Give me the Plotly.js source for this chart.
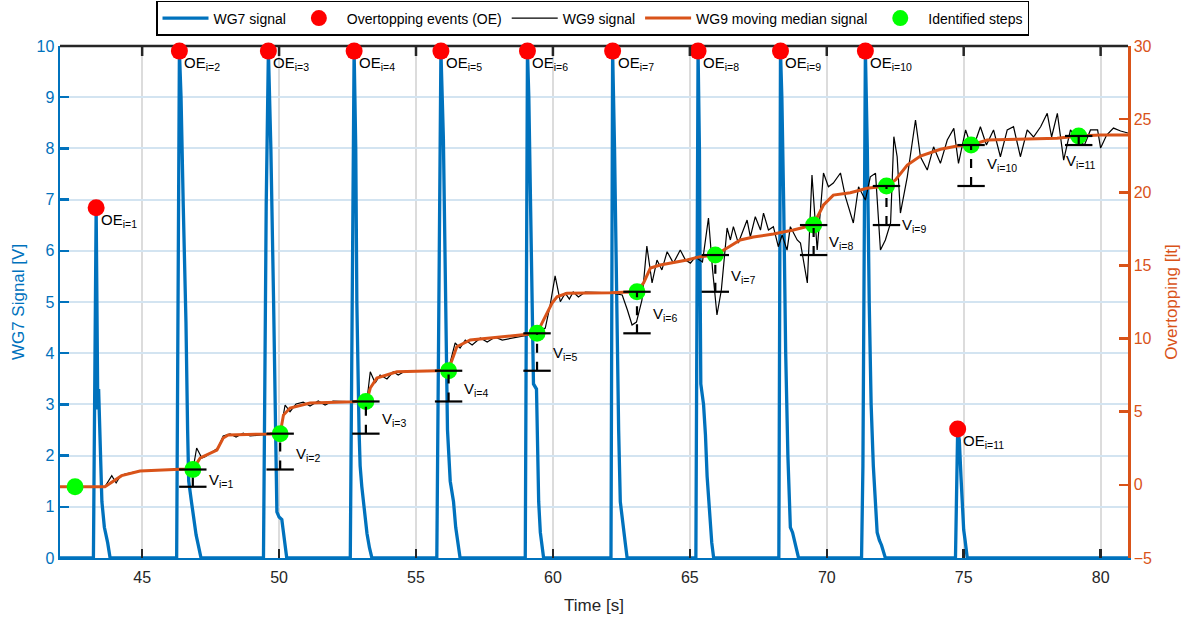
<!DOCTYPE html>
<html><head><meta charset="utf-8">
<script src="https://cdn.plot.ly/plotly-3.0.1.min.js"></script>
<style>html,body{margin:0;padding:0;background:#fff}#chart{width:1196px;height:621px}</style>
</head><body><div id="chart"></div>
<script>
// ---------------- DATA ----------------
// WG7 signal [V] (left axis)
const wg7Time = [42.0,
 43.22, 43.32, 43.35, 43.38, 43.41, 43.47, 43.53, 43.62, 43.68, 43.74, 43.83,
 46.26, 46.36, 46.42, 46.50, 46.60, 46.66, 46.70, 46.80, 46.90, 46.97, 47.05, 47.15,
 49.43, 49.53, 49.61, 49.70, 49.80, 49.88, 49.92, 50.00, 50.10, 50.16, 50.22, 50.28,
 52.60, 52.70, 52.74, 52.80, 52.84, 52.92, 52.96, 53.02, 53.08, 53.14, 53.21, 53.30, 53.39,
 55.76, 55.85, 55.91, 56.00, 56.08, 56.15, 56.25, 56.37, 56.45, 56.53, 56.61,
 58.99, 59.07, 59.12, 59.17, 59.25, 59.29, 59.40, 59.45, 59.48, 59.54, 59.60, 59.66,
 62.12, 62.18, 62.25, 62.32, 62.40, 62.46, 62.52, 62.58, 62.64, 62.71,
 65.22, 65.30, 65.35, 65.38, 65.40, 65.50, 65.57, 65.63, 65.69, 65.75, 65.80, 65.87,
 68.25, 68.31, 68.36, 68.43, 68.50, 68.58, 68.64, 68.67, 68.75, 68.80, 68.88, 68.97,
 71.27, 71.30, 71.32, 71.41, 71.48, 71.55, 71.62, 71.70, 71.78, 71.84, 71.92, 72.00, 72.14,
 74.70, 74.78, 74.84, 74.90, 74.94, 75.00, 75.05, 75.13,
 81.0];
const wg7Volt = [0,
 0, 6.84, 3.4, 2.9, 3.3, 2.0, 1.1, 0.6, 0.45, 0.3, 0,
 0, 9.9, 9.0, 6.9, 4.6, 2.5, 1.5, 1.1, 0.7, 0.45, 0.25, 0,
 0, 6.9, 9.9, 8.0, 5.0, 2.0, 0.9, 0.8, 0.75, 0.5, 0.2, 0,
 0, 7.4, 9.9, 8.0, 5.0, 2.5, 1.8, 1.4, 1.1, 0.8, 0.48, 0.2, 0,
 0, 7.3, 9.9, 8.2, 5.0, 2.5, 1.5, 1.1, 0.6, 0.3, 0,
 0, 9.9, 9.0, 7.0, 4.0, 3.4, 3.3, 2.0, 1.1, 0.5, 0.2, 0,
 0, 9.9, 8.0, 5.0, 2.5, 1.1, 0.8, 0.6, 0.3, 0,
 0, 9.9, 8.0, 5.0, 3.4, 3.0, 2.4, 1.6, 1.1, 0.55, 0.3, 0,
 0, 9.9, 9.0, 6.8, 4.0, 2.0, 1.1, 0.6, 0.5, 0.4, 0.2, 0,
 0, 1.6, 1.8, 9.9, 8.0, 5.0, 3.0, 1.8, 1.0, 0.5, 0.35, 0.25, 0,
 0, 2.52, 2.3, 1.6, 1.0, 0.55, 0.35, 0,
 0];

// Overtopping events (left axis)
const oeTime = [43.32, 46.36, 49.61, 52.74, 55.91, 59.07, 62.18, 65.30, 68.31, 71.41, 74.78];
const oePeak = [6.84, 9.9, 9.9, 9.9, 9.9, 9.9, 9.9, 9.9, 9.9, 9.9, 2.52];
const oeLabels = ['OE<sub>i=1</sub>','OE<sub>i=2</sub>','OE<sub>i=3</sub>','OE<sub>i=4</sub>','OE<sub>i=5</sub>','OE<sub>i=6</sub>','OE<sub>i=7</sub>','OE<sub>i=8</sub>','OE<sub>i=9</sub>','OE<sub>i=10</sub>','OE<sub>i=11</sub>'];

// WG9 signal [lt] (right axis)
const wg9Time = [42.00,43.64,43.89,44.05,44.19,44.37,44.92,46.38,46.86,46.99,47.18,47.30,47.55,47.77,47.96,48.21,48.43,48.69,48.94,49.67,50.04,
 50.22,50.40,50.62,50.88,51.13,51.43,51.68,51.97,52.71,53.21,53.33,53.51,53.69,53.94,54.17,54.35,54.61,55.76,56.18,
 56.43,56.61,56.80,57.05,57.35,57.60,57.89,58.15,59.42,59.72,59.90,60.08,60.27,60.45,60.60,60.74,60.93,61.18,62.10,
 62.53,62.72,62.89,63.05,63.25,63.43,63.62,63.80,63.98,64.17,64.40,64.65,64.84,65.02,65.20,65.46,65.68,65.83,65.99,
 66.15,66.36,66.48,66.59,66.77,67.09,67.21,67.39,67.58,67.69,67.87,68.05,68.23,68.37,68.55,68.67,68.92,69.04,69.29,
 69.46,69.65,69.88,70.06,70.24,70.50,70.68,70.97,71.16,71.41,71.59,71.78,71.96,72.14,72.33,72.45,72.57,72.69,72.94,
 73.24,73.42,73.67,73.90,74.15,74.40,74.64,74.81,75.07,75.32,75.61,75.83,76.09,76.34,76.59,76.82,77.07,77.32,77.55,
 77.81,78.05,78.21,78.42,78.65,78.90,79.16,79.41,79.63,79.89,80.00,80.22,80.47,80.73,81.0];
const wg9Vol = [-0.13,-0.13,0.63,0.13,0.56,0.74,0.95,1.06,1.10,2.52,1.84,1.92,2.25,2.52,3.34,3.48,3.27,3.54,3.34,3.48,3.54,
 5.46,5.00,5.53,5.66,5.39,5.73,5.46,5.73,5.68,5.80,7.73,6.96,7.51,7.24,7.73,7.51,7.78,7.80,7.85,
 9.70,9.35,9.90,9.56,10.04,9.76,10.10,9.90,10.36,10.72,12.29,14.28,12.52,13.11,12.70,13.18,12.84,13.18,13.13,
 12.98,11.95,10.93,11.13,12.63,16.33,13.80,15.37,14.69,15.94,15.16,16.05,15.37,15.16,15.57,15.23,18.24,14.69,11.61,
 13.32,17.56,16.74,17.65,16.53,18.10,16.96,18.33,17.42,18.58,17.42,17.65,16.28,17.08,16.05,17.65,16.74,16.53,13.80,
 21.18,16.05,21.32,20.38,20.63,21.32,19.70,17.90,20.38,19.47,21.06,21.30,16.05,16.74,17.90,23.80,22.43,18.58,21.06,
 24.94,22.43,21.52,23.11,21.98,23.57,24.37,21.98,24.26,22.89,24.48,23.23,24.26,22.43,24.26,24.48,22.43,24.26,23.78,
 24.48,25.40,23.78,25.40,22.20,24.26,23.57,23.23,24.26,24.26,23.02,23.91,24.39,24.19,24.05];

// WG9 moving median signal [lt] (right axis)
const medTime = [42.00,43.64,44.25,44.92,46.38,46.86,47.12,47.73,47.96,48.14,49.67,50.04,50.16,50.40,51.13,52.71,53.21,53.33,53.57,54.30,
 55.76,56.18,56.36,56.49,56.98,58.08,59.42,59.60,59.97,60.15,60.51,62.10,63.07,63.31,63.56,63.92,64.29,64.90,65.38,65.93,
 66.36,66.84,67.32,68.05,68.78,69.51,69.88,70.24,70.86,71.47,72.18,72.51,72.94,73.42,74.15,74.76,75.27,75.86,76.95,78.41,
 79.19,80.00,81.0];
const medVol = [-0.13,-0.13,0.63,0.95,1.06,1.08,1.84,2.38,3.20,3.41,3.48,3.52,4.77,5.25,5.59,5.68,5.78,6.62,7.30,7.73,
 7.80,7.85,8.76,9.44,9.90,10.10,10.36,11.06,12.43,12.86,13.09,13.13,13.20,13.80,14.82,15.03,15.16,15.37,15.60,15.71,
 16.19,16.74,16.94,17.15,17.42,17.76,19.13,19.81,19.97,20.27,20.43,20.84,21.86,22.48,22.94,23.16,23.23,23.57,23.62,23.69,
 23.85,23.91,23.91];

// Identified steps [lt] (right axis)
const stepTime = [42.55, 46.85, 50.04, 53.17, 56.19, 59.42, 63.07, 65.93, 69.52, 72.18, 75.27, 79.20];
const stepVol = [-0.13, 1.05, 3.50, 5.70, 7.80, 10.36, 13.20, 15.71, 17.76, 20.43, 23.23, 23.85];
const stepLabels = ['V<sub>i=1</sub>','V<sub>i=2</sub>','V<sub>i=3</sub>','V<sub>i=4</sub>','V<sub>i=5</sub>','V<sub>i=6</sub>','V<sub>i=7</sub>','V<sub>i=8</sub>','V<sub>i=9</sub>','V<sub>i=10</sub>','V<sub>i=11</sub>'];
const stepLabelX = [47.35, 50.54, 53.67, 56.69, 59.92, 63.57, 66.43, 70.02, 72.68, 75.77, 78.68];
const stepLabelY = [0.54, 2.38, 4.77, 6.82, 9.22, 11.95, 14.55, 16.87, 17.97, 22.2, 22.4];

const xTicks = [45, 50, 55, 60, 65, 70, 75, 80];

// ---------------- BUILD ----------------
const BLUE = '#0072BD', ORANGE = '#D95319', DARK = '#262626';
const FONT = 'Liberation Sans, Arial, Helvetica, sans-serif';
const HALF = 0.5;

const barX = [], barY = [], dashX = [], dashY = [];
for (let i = 1; i < stepTime.length; i++) {
  const t = stepTime[i];
  barX.push(t - HALF, t + HALF, null, t - HALF, t + HALF, null);
  barY.push(stepVol[i], stepVol[i], null, stepVol[i-1], stepVol[i-1], null);
  dashX.push(t, t, null);
  dashY.push(stepVol[i-1], stepVol[i], null);
}

const traces = [
  {x: wg7Time, y: wg7Volt, type: 'scatter', mode: 'lines', name: 'WG7 signal',
   line: {color: BLUE, width: 3.3}, xaxis: 'x', yaxis: 'y'},
  {x: oeTime, y: oePeak, type: 'scatter', mode: 'markers', name: 'Overtopping events (OE)',
   marker: {color: '#FF0000', size: 17}, cliponaxis: false, xaxis: 'x', yaxis: 'y'},
  {x: wg9Time, y: wg9Vol, type: 'scatter', mode: 'lines', name: 'WG9 signal',
   line: {color: '#000000', width: 1.2}, xaxis: 'x', yaxis: 'y2'},
  {x: medTime, y: medVol, type: 'scatter', mode: 'lines', name: 'WG9 moving median signal',
   line: {color: ORANGE, width: 3}, xaxis: 'x', yaxis: 'y2'},
  {x: stepTime, y: stepVol, type: 'scatter', mode: 'markers', name: 'Identified steps',
   marker: {color: '#00FF00', size: 17}, cliponaxis: false, xaxis: 'x', yaxis: 'y2'},
  {x: barX, y: barY, type: 'scatter', mode: 'lines', showlegend: false,
   line: {color: '#000000', width: 2.2}, xaxis: 'x', yaxis: 'y2'},
  {x: dashX, y: dashY, type: 'scatter', mode: 'lines', showlegend: false,
   line: {color: '#000000', width: 2.2, dash: 'dash'}, xaxis: 'x', yaxis: 'y2'}
];

const annotations = [];
oeTime.forEach((t, i) => annotations.push({
  x: t, y: oePeak[i], xref: 'x', yref: 'y', text: oeLabels[i], showarrow: false,
  xanchor: 'left', yanchor: 'top', xshift: 3, yshift: -1,
  font: {family: FONT, size: 15, color: '#000'}
}));
stepLabels.forEach((s, i) => annotations.push({
  x: stepLabelX[i], y: stepLabelY[i], xref: 'x', yref: 'y2', text: s, showarrow: false,
  xanchor: 'left', yanchor: 'middle', xshift: 0, yshift: -4,
  font: {family: FONT, size: 15, color: '#000'}
}));

// top frame line and mirrored top ticks (black), as in the reference
const PLOT_H = 621 - 46 - 63;
const shapes = [{type: 'line', xref: 'paper', yref: 'paper', x0: 0, x1: 1, y0: 1, y1: 1,
  line: {color: DARK, width: 2.5}, layer: 'below'}];
xTicks.forEach(t => shapes.push({type: 'line', xref: 'x', yref: 'paper', x0: t, x1: t,
  y0: 1, y1: 1 - 10 / PLOT_H, line: {color: DARK, width: 2.5}, layer: 'above'}));

const layout = {
  width: 1196, height: 621,
  margin: {l: 60, r: 68, t: 46, b: 63, pad: 0, autoexpand: false},
  paper_bgcolor: '#fff', plot_bgcolor: '#fff',
  font: {family: FONT, size: 16, color: DARK},
  showlegend: true,
  legend: {orientation: 'h', x: 0.4986, xanchor: 'center', y: 1.088, yanchor: 'top',
    bgcolor: '#fff', bordercolor: '#000', borderwidth: 1.5,
    font: {family: FONT, size: 14, color: '#000'}, itemwidth: 46, tracegroupgap: 0},
  xaxis: {range: [42, 81], tickvals: xTicks, ticktext: xTicks.map(String),
    ticks: 'inside', ticklen: 9, tickwidth: 2.5, tickcolor: DARK,
    showline: true, linecolor: BLUE, linewidth: 2, mirror: false,
    showgrid: true, gridcolor: '#DCDCDC', gridwidth: 2, zeroline: false,
    ticklabelstandoff: 4,
    tickfont: {family: FONT, size: 16, color: DARK},
    title: {text: 'Time [s]', font: {family: FONT, size: 17, color: DARK}, standoff: 14}},
  yaxis: {range: [0, 10], dtick: 1, tick0: 0,
    ticks: 'inside', ticklen: 9, tickwidth: 2.5, tickcolor: BLUE,
    showline: true, linecolor: BLUE, linewidth: 2.5, mirror: false,
    showgrid: true, gridcolor: '#D3E4F1', gridwidth: 2, zeroline: false,
    tickfont: {family: FONT, size: 16, color: BLUE},
    title: {text: 'WG7 Signal [V]', font: {family: FONT, size: 17, color: BLUE}, standoff: 8}},
  yaxis2: {range: [-5, 30], dtick: 5, tick0: -5, overlaying: 'y', side: 'right',
    ticks: 'inside', ticklen: 9, tickwidth: 2.5, tickcolor: ORANGE,
    showline: true, linecolor: ORANGE, linewidth: 2.5,
    showgrid: false, zeroline: false,
    tickfont: {family: FONT, size: 16, color: ORANGE},
    title: {text: 'Overtopping [lt]', font: {family: FONT, size: 17, color: ORANGE}, standoff: 14}},
  shapes: shapes,
  annotations: annotations
};

Plotly.newPlot('chart', traces, layout, {staticPlot: true, displayModeBar: false});
</script></body></html>
